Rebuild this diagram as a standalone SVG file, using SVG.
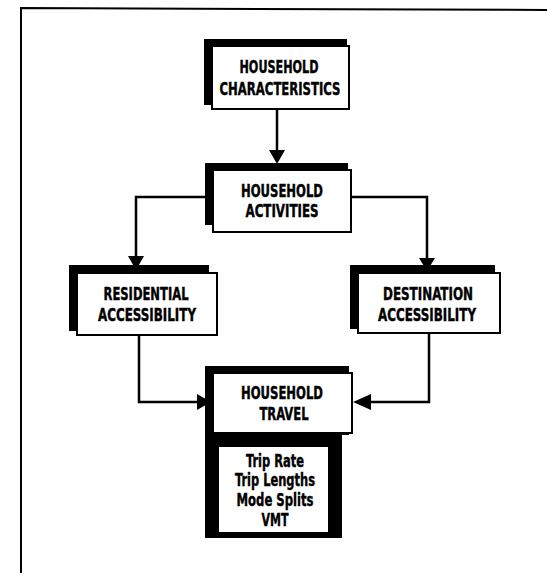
<svg xmlns="http://www.w3.org/2000/svg" width="547" height="573" viewBox="0 0 547 573">
<defs>
<style>
.frame{fill:none;stroke:#000;stroke-width:2}
.shadow{fill:#000}
.box{fill:#fff;stroke:#000;stroke-width:2}
.lbl{font-family:"DejaVu Sans Condensed","DejaVu Sans",sans-serif;font-weight:bold;font-stretch:condensed;font-size:17px;fill:#000;stroke:#000;stroke-width:0.4;text-anchor:middle}
.lst{font-family:"DejaVu Sans Condensed","DejaVu Sans",sans-serif;font-weight:bold;font-stretch:condensed;font-size:18px;fill:#000;stroke:#000;stroke-width:0.4;text-anchor:middle}
.con{fill:none;stroke:#000;stroke-width:2.5}
.head{fill:#000}
</style>
</defs>
<rect width="547" height="573" fill="#fff"/>
<path class="frame" d="M21,573 V8 L547,10"/>

<g id="household-characteristics">
<rect class="shadow" x="204" y="39" width="143" height="66"/>
<rect class="box" x="212" y="46" width="137" height="63"/>
<text class="lbl" x="279" y="73" textLength="79" lengthAdjust="spacingAndGlyphs">HOUSEHOLD</text>
<text class="lbl" x="280" y="95" textLength="121" lengthAdjust="spacingAndGlyphs">CHARACTERISTICS</text>
</g>

<g id="household-activities">
<rect class="shadow" x="205" y="163" width="143" height="62"/>
<rect class="box" x="213" y="170" width="138" height="62"/>
<text class="lbl" x="282" y="197" textLength="82" lengthAdjust="spacingAndGlyphs">HOUSEHOLD</text>
<text class="lbl" x="282" y="217" textLength="73" lengthAdjust="spacingAndGlyphs">ACTIVITIES</text>
</g>

<g id="residential-accessibility">
<rect class="shadow" x="69" y="265" width="140" height="66"/>
<rect class="box" x="77" y="273" width="140" height="62"/>
<text class="lbl" x="146" y="300" textLength="85" lengthAdjust="spacingAndGlyphs">RESIDENTIAL</text>
<text class="lbl" x="147" y="321" textLength="98" lengthAdjust="spacingAndGlyphs">ACCESSIBILITY</text>
</g>

<g id="destination-accessibility">
<rect class="shadow" x="350" y="265" width="145" height="64"/>
<rect class="box" x="358" y="273" width="142" height="60"/>
<text class="lbl" x="428" y="300" textLength="90" lengthAdjust="spacingAndGlyphs">DESTINATION</text>
<text class="lbl" x="427" y="321" textLength="98" lengthAdjust="spacingAndGlyphs">ACCESSIBILITY</text>
</g>

<g id="household-travel">
<rect class="shadow" x="205" y="366" width="144" height="69"/>
<rect class="box" x="213" y="373" width="139" height="60"/>
<text class="lbl" x="282" y="399" textLength="82" lengthAdjust="spacingAndGlyphs">HOUSEHOLD</text>
<text class="lbl" x="284" y="420" textLength="49" lengthAdjust="spacingAndGlyphs">TRAVEL</text>
</g>

<g id="travel-measures">
<rect class="shadow" x="205" y="433" width="137" height="105"/>
<rect x="219" y="447" width="109" height="85" fill="#fff"/>
<text class="lst" x="275" y="467" textLength="58" lengthAdjust="spacingAndGlyphs">Trip Rate</text>
<text class="lst" x="275" y="486" textLength="80" lengthAdjust="spacingAndGlyphs">Trip Lengths</text>
<text class="lst" x="275" y="506" textLength="77" lengthAdjust="spacingAndGlyphs">Mode Splits</text>
<text class="lst" x="275" y="526" textLength="27" lengthAdjust="spacingAndGlyphs">VMT</text>
</g>

<g id="connectors">
<path class="con" d="M277,109 V152"/>
<polygon class="head" points="269,150 285,150 277,164"/>
<path class="con" d="M205,197 H136 V258"/>
<polygon class="head" points="128,256 144,256 136,270"/>
<path class="con" d="M351,197 H427 V260"/>
<polygon class="head" points="419,258 435,258 427,271"/>
<path class="con" d="M139,335 V402 H200"/>
<polygon class="head" points="197,394 197,410 211,402"/>
<path class="con" d="M429,333 V402 H365"/>
<polygon class="head" points="371,394 371,410 353,402"/>
</g>
</svg>
